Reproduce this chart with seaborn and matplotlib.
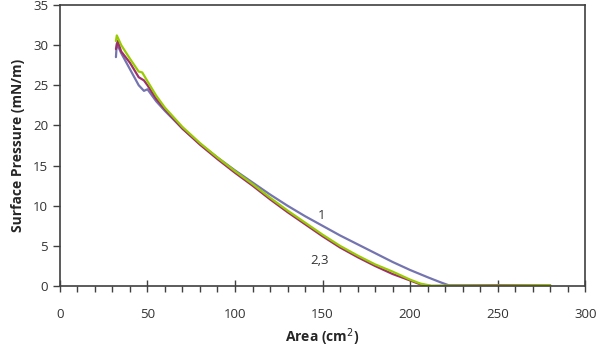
import numpy as np
import pandas as pd
import matplotlib
matplotlib.use("Agg")
import matplotlib.pyplot as plt
import seaborn as sns
from matplotlib.ticker import MultipleLocator

# Isotherm 1 (blue)
area_1 = [32, 32.5, 35, 40, 45, 48, 50, 55, 60, 70, 80, 90, 100, 110, 120, 130,
          140, 150, 160, 170, 180, 190, 200, 210, 217, 222, 250, 280]
pres_1 = [28.5, 30.2, 29.0, 27.0, 25.0, 24.3, 24.5, 23.0, 21.8, 19.6, 17.7, 16.0,
          14.4, 12.9, 11.4, 10.0, 8.7, 7.5, 6.3, 5.2, 4.1, 3.0, 2.0, 1.1, 0.5,
          0.1, 0.05, 0.05]
# Isotherm 2 (purple)
area_2 = [32, 33, 35, 40, 45, 48, 50, 55, 60, 70, 80, 90, 100, 110, 120, 130,
          140, 150, 160, 170, 180, 190, 200, 206, 212, 250, 280]
pres_2 = [29.5, 30.5, 29.2, 27.8, 26.0, 25.6, 25.0, 23.3, 22.0, 19.6, 17.6, 15.8,
          14.1, 12.5, 10.8, 9.2, 7.7, 6.2, 4.8, 3.6, 2.5, 1.5, 0.7, 0.2, 0.0,
          0.1, 0.1]
# Isotherm 3 (green)
area_3 = [32, 32.5, 35, 40, 45, 47, 50, 55, 60, 70, 80, 90, 100, 110, 120, 130,
          140, 150, 160, 170, 180, 190, 200, 206, 212, 250, 280]
pres_3 = [30.5, 31.2, 30.0, 28.3, 26.7, 26.6, 25.5, 23.7, 22.2, 19.8, 17.8, 16.0,
          14.3, 12.7, 11.0, 9.4, 7.9, 6.4, 5.0, 3.8, 2.7, 1.8, 0.8, 0.3, 0.05,
          0.05, 0.1]

x_ticks = [0, 50, 100, 150, 200, 250, 300]
y_ticks = [0, 5, 10, 15, 20, 25, 30, 35]

df = pd.concat([
    pd.DataFrame({"Area": area_1, "Pressure": pres_1, "Run": "1"}),
    pd.DataFrame({"Area": area_2, "Pressure": pres_2, "Run": "2"}),
    pd.DataFrame({"Area": area_3, "Pressure": pres_3, "Run": "3"}),
])

sns.set_style("white")
plt.rcParams["font.family"] = ["Open Sans", "DejaVu Sans"]

fig = plt.figure(figsize=(5.99, 3.51), dpi=100)
ax = fig.add_axes([0.100, 0.185, 0.877, 0.801])

palette = {"1": "#7474b0", "2": "#9e2f6e", "3": "#99cc00"}
sns.lineplot(data=df, x="Area", y="Pressure", hue="Run", palette=palette,
             sort=False, estimator=None, linewidth=1.6, legend=False, ax=ax)

ax.set_xlim(0, 300)
ax.set_ylim(0, 35)
ax.set_xticks(x_ticks)
ax.set_yticks(y_ticks)
ax.xaxis.set_minor_locator(MultipleLocator(10))
ax.tick_params(axis="both", which="major", direction="out", length=5, width=1,
               color="#404040", labelsize=9.5, labelcolor="#333333", bottom=True, left=True)
ax.tick_params(axis="x", which="major", direction="inout", length=8)
ax.tick_params(axis="x", which="minor", direction="out", length=4, width=1,
               color="#404040", bottom=True)
ax.tick_params(axis="x", pad=12)
for s in ax.spines.values():
    s.set_color("#404040")
    s.set_linewidth(1.2)

ax.set_xlabel("Area (cm$^2$)", fontsize=10, fontweight="bold", labelpad=4)
ax.set_ylabel("Surface Pressure (mN/m)", fontsize=10, fontweight="bold", labelpad=6)

ax.text(147, 8.4, "1", fontsize=9.5, color="#333333")
ax.text(143, 2.7, "2,3", fontsize=9.5, color="#333333")

fig.savefig("out.png", dpi=100)
